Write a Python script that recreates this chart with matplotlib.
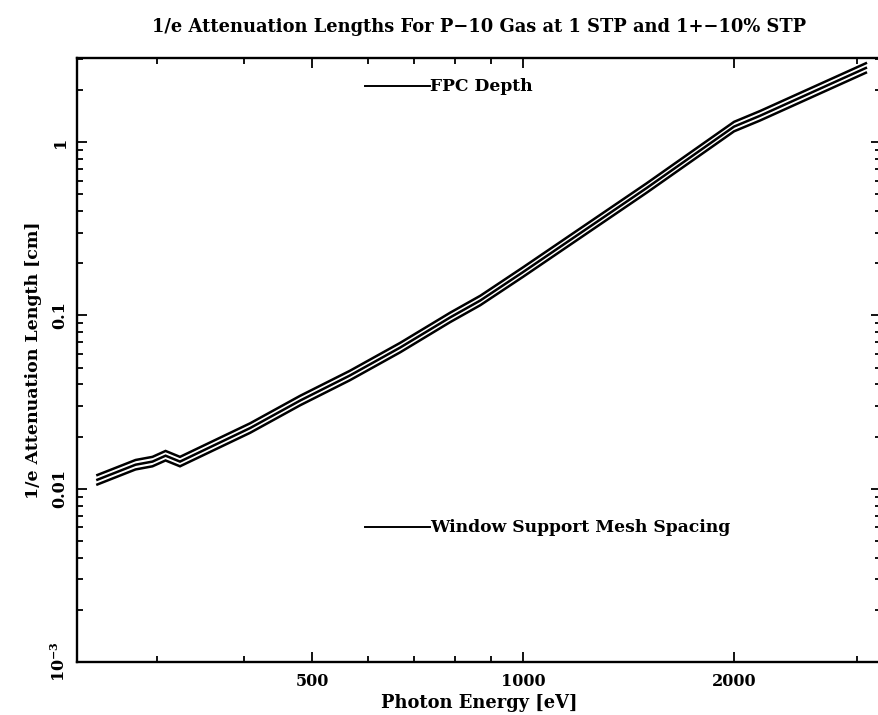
import matplotlib
matplotlib.use("Agg")
import matplotlib.pyplot as plt
from matplotlib.ticker import FixedLocator, NullFormatter, FixedFormatter

# ---- data ----
energy_ev = [247, 280, 296, 309, 324, 408, 481, 566, 668, 787, 869, 1000, 1500, 2000, 2178, 3084]
length_1p1_stp = [0.0120, 0.01465, 0.01527, 0.01652, 0.01527, 0.02386, 0.0344, 0.0479, 0.0695,
                  0.1037, 0.1299, 0.1896, 0.578, 1.31, 1.512, 2.854]
length_1_stp = [0.01127, 0.01376, 0.01434, 0.01551, 0.01434, 0.0224, 0.0323, 0.045, 0.0653,
                0.0974, 0.122, 0.178, 0.543, 1.23, 1.42, 2.68]
length_0p9_stp = [0.01058, 0.01292, 0.01347, 0.01456, 0.01347, 0.02103, 0.03033, 0.04225, 0.0613,
                  0.0915, 0.1146, 0.1671, 0.510, 1.155, 1.333, 2.516]

fpc_depth_cm = 2.1
mesh_spacing_cm = 0.006
marker_x = [595, 737]

x_tick_major = [1000]
x_tick_minor = [300, 400, 500, 600, 700, 800, 900, 2000, 3000]
x_label_ticks = [500, 1000, 2000]
x_label_text = ["500", "1000", "2000"]
y_label_ticks = [1e-3, 1e-2, 1e-1, 1]
y_label_text = ["10$^{-3}$", "0.01", "0.1", "1"]

title = "1/e Attenuation Lengths For P\u221210 Gas at 1 STP and 1+\u221210% STP"

plt.rcParams['font.family'] = ['DejaVu Serif']
plt.rcParams['font.weight'] = 'bold'
plt.rcParams['mathtext.fontset'] = 'dejavuserif'
plt.rcParams['mathtext.default'] = 'bf'
FS_TICK = 11.5
FS_LAB = 12.9
FS_ANN = 12.3

fig = plt.figure(figsize=(8.79, 7.15), dpi=100)
ax = fig.add_axes([77/879, 1-662/715, 804/879, 604/715])
ax.set_xscale('log')
ax.set_yscale('log')

for series in (length_1p1_stp, length_1_stp, length_0p9_stp):
    ax.plot(energy_ev, series, color='black', lw=1.8, solid_joinstyle='miter')

ax.set_xlim(231, 3241)
ax.set_ylim(1e-3, 3.06)

# annotations
ax.plot(marker_x, [fpc_depth_cm]*2, color='black', lw=1.4)
ax.text(marker_x[1], fpc_depth_cm, "FPC Depth", ha='left', va='center', fontsize=FS_ANN, fontweight='bold')
ax.plot(marker_x, [mesh_spacing_cm]*2, color='black', lw=1.4)
ax.text(marker_x[1], mesh_spacing_cm, "Window Support Mesh Spacing", ha='left', va='center',
        fontsize=FS_ANN, fontweight='bold')

# ticks
all_x = sorted(x_tick_major + x_tick_minor)
ax.xaxis.set_major_locator(FixedLocator(x_label_ticks))
ax.xaxis.set_major_formatter(FixedFormatter(x_label_text))
ax.xaxis.set_minor_locator(FixedLocator([t for t in all_x if t not in x_label_ticks]))
ax.xaxis.set_minor_formatter(NullFormatter())

ax.yaxis.set_major_locator(FixedLocator(y_label_ticks))
ax.yaxis.set_major_formatter(FixedFormatter(y_label_text))
ymin = [m * 10.0**e for e in range(-3, 1) for m in range(2, 10)]
ax.yaxis.set_minor_locator(FixedLocator(ymin))
ax.yaxis.set_minor_formatter(NullFormatter())

ax.tick_params(which='both', direction='in', top=True, right=True, width=1.3, colors='black')
ax.tick_params(which='major', length=7)
ax.tick_params(which='minor', length=4)
ax.tick_params(axis='x', which='major', labelsize=FS_TICK, pad=8)
ax.tick_params(axis='y', which='major', labelsize=FS_TICK, pad=6)
for lab in ax.get_yticklabels():
    lab.set_rotation(90)
    lab.set_va('center')
for lab in ax.get_xticklabels() + ax.get_yticklabels():
    lab.set_fontweight('bold')

for s in ax.spines.values():
    s.set_linewidth(1.7)

ax.set_xlabel("Photon Energy [eV]", fontsize=FS_LAB, fontweight='bold', labelpad=3)
ax.set_ylabel("1/e Attenuation Length [cm]", fontsize=12.5, fontweight='bold', labelpad=6)
fig.text(0.545, 1-27/715, title, ha='center', va='center', fontsize=FS_LAB, fontweight='bold')

fig.savefig("out.png", dpi=100)
